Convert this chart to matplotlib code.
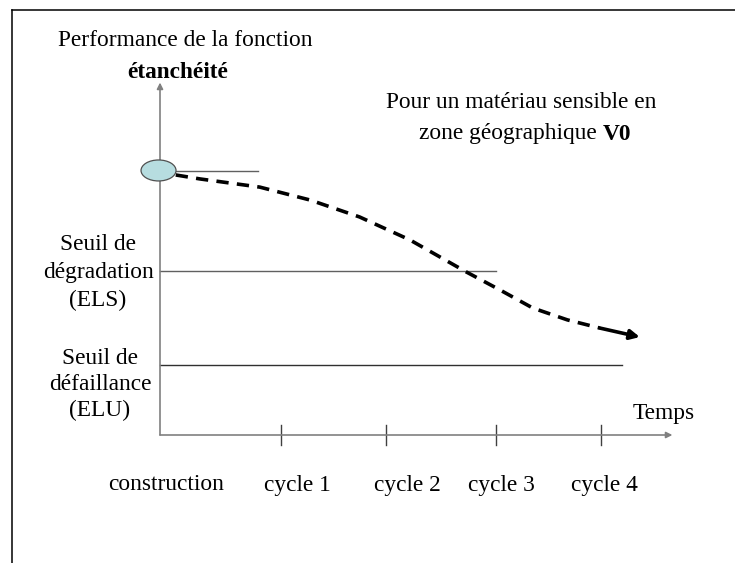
import matplotlib.pyplot as plt
from matplotlib.patches import Ellipse
from matplotlib.lines import Line2D

plt.rcParams['font.family'] = ['Liberation Serif', 'DejaVu Serif']

# performance (start = 100) against time, one unit ~ one maintenance step
curve_t = [0.15, 0.38, 0.95, 1.43, 1.90, 2.38, 2.92, 3.24, 3.55, 3.88, 4.19]
curve_p = [98.5, 97.0, 93.9, 89.0, 82.6, 73.9, 61.7, 54.9, 48.1, 43.6, 40.5]
curve_end = (4.57, 37.1)

start_level = 100
els_level = 62
elu_level = 26.5
start_line_end = 0.93
els_line_end = 3.2
elu_line_end = 4.4

tick_pos = [1.15, 2.15, 3.2, 4.2]
tick_labels = ['construction', 'cycle 1', 'cycle 2', 'cycle 3', 'cycle 4']
label_px = [166, 297, 407, 501, 604]

fs = 16.8

fig = plt.figure(figsize=(7.35, 5.63), dpi=100)
ax = fig.add_axes([0, 0, 1, 1])
ax.set_xlim(-160 / 105, 575 / 105)
ax.set_ylim((435 - 563) / 2.64, 435 / 2.64)
ax.axis('off')

# frame: top and left edges only
fig.add_artist(Line2D([12 / 735, 1], [1 - 10 / 563] * 2, color='black', lw=1.1,
                      transform=fig.transFigure))
fig.add_artist(Line2D([12 / 735] * 2, [0, 1 - 10 / 563], color='black', lw=1.1,
                      transform=fig.transFigure))

# axes with arrow heads
grey = '#808080'
ax.annotate('', xy=(4.88, 0), xytext=(0, 0),
            arrowprops=dict(arrowstyle='-|>', color=grey, lw=1.2,
                            mutation_scale=9, shrinkA=0, shrinkB=0))
ax.annotate('', xy=(0, 133.5), xytext=(0, 0),
            arrowprops=dict(arrowstyle='-|>', color=grey, lw=1.2,
                            mutation_scale=9, shrinkA=0, shrinkB=0))
for t in tick_pos:
    ax.plot([t, t], [-3.8, 3.8], color='#404040', lw=1)

# threshold lines
ax.plot([0, start_line_end], [start_level] * 2, color='#606060', lw=1)
ax.plot([0, els_line_end], [els_level] * 2, color='#606060', lw=1)
ax.plot([0, elu_line_end], [elu_level] * 2, color='#303030', lw=1)

# degradation curve
ax.plot(curve_t, curve_p, color='black', lw=2.6, dashes=(3.4, 2.3), zorder=3)
ax.annotate('', xy=curve_end, xytext=(curve_t[-1], curve_p[-1]),
            arrowprops=dict(arrowstyle='-|>', color='black', lw=2.6,
                            mutation_scale=14, shrinkA=0, shrinkB=0))

ax.add_patch(Ellipse((-0.014, start_level + 0.2), 35 / 105, 21 / 2.64,
                     facecolor='#b7dde0', edgecolor='#505050', lw=0.9, zorder=4))


def ft(x, y, s, **kw):
    return fig.text(x / 735, 1 - y / 563, s, fontsize=fs, va='center', **kw)


ft(185, 40, 'Performance de la fonction', ha='center')
ft(178, 72, 'étanchéité', ha='center', fontweight='bold')
ft(521, 103, 'Pour un matériau sensible en', ha='center')
zone = ft(603, 134, 'zone géographique ', ha='right')
ax.annotate('V0', xy=(1, 0.5), xycoords=zone, ha='left', va='center',
            fontsize=fs, fontweight='bold')

for i, s in enumerate(['Seuil de', 'dégradation', '(ELS)']):
    ft(98, 245 + 27.5 * i, s, ha='center')
for i, s in enumerate(['Seuil de', 'défaillance', '(ELU)']):
    ft(100, 358 + 26 * i, s, ha='center')

ft(664, 413, 'Temps', ha='center')
for x, s in zip(label_px, tick_labels):
    ft(x, 485, s, ha='center')

fig.savefig('out.png', dpi=100)
